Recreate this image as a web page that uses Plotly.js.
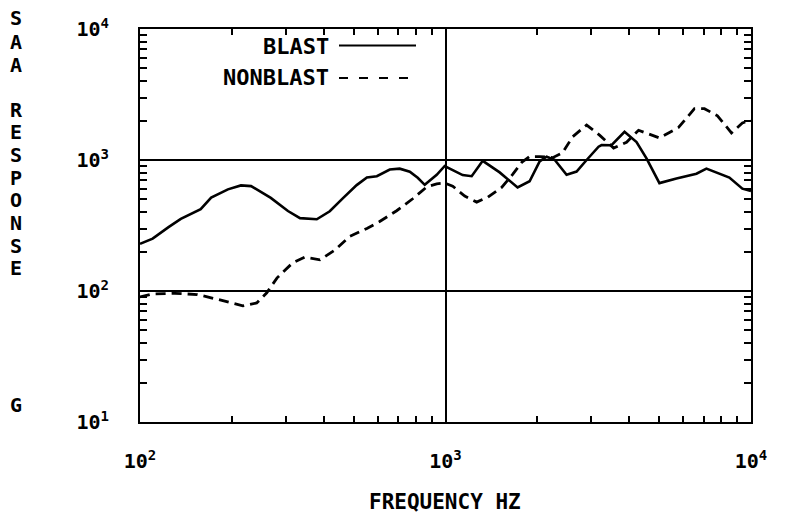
<!DOCTYPE html>
<html>
<head>
<meta charset="utf-8">
<script src="https://cdn.plot.ly/plotly-3.0.1.min.js"></script>
<style>html,body{margin:0;padding:0;background:#fff;}#chart{width:790px;height:519px;}</style>
</head>
<body>
<div id="chart"></div>
<script>
// Frequency (Hz) and response (G)
const blastFreq = [100,110,124,136,158,171,194,214,231,268,305,334,379,418,461,512,553,596,657,708,764,811,855,936,994,1138,1218,1324,1504,1722,1885,2033,2143,2276,2491,2686,2897,3170,3243,3494,3855,4220,4549,5015,5702,6630,7146,7709,8496,9370,10000];
const blastResp = [229,251,307,355,422,517,597,640,632,514,408,360,353,406,510,643,735,752,845,859,813,731,646,770,900,767,752,985,804,617,688,977,1060,1005,771,816,1000,1263,1300,1297,1640,1372,1030,666,722,786,859,804,735,604,580];

const nonblastFreq = [100,110,130,154,179,217,241,260,281,316,346,388,434,486,553,609,692,781,868,936,994,1056,1156,1265,1374,1527,1659,1775,1885,2033,2243,2417,2606,2897,3193,3550,3914,4285,5015,5791,6530,7040,7766,8630,9370,10000];
const nonblastResp = [90,95,96,94,86.5,77,81,97,126,164,181,173,205,261,300,339,410,506,623,658,667,632,530,477,519,618,776,957,1062,1062,1042,1135,1503,1849,1549,1233,1367,1687,1475,1770,2466,2466,2175,1611,1916,2018];

const seriesNames = ['BLAST', 'NONBLAST'];
const xTickVals = [100, 1000, 10000];
const xTickText = ['10<sup>2</sup>', '10<sup>3</sup>', '10<sup>4</sup>'];
const yTickVals = [10, 100, 1000, 10000];
const yTickText = ['10<sup>1</sup>', '10<sup>2</sup>', '10<sup>3</sup>', '10<sup>4</sup>'];
const xTitle = 'FREQUENCY HZ';
const yTitleLetters = ['S','A','A','R','E','S','P','O','N','S','E','G'];

function minorVals(decades) {
  const out = [];
  decades.forEach(d => { for (let k = 2; k <= 9; k++) out.push(k * d); });
  return out;
}

const FONT = 'DejaVu Sans Mono, monospace';
const W = 790, H = 519, ML = 140, MR = 39, MT = 29, MB = 97;
const plotW = W - ML - MR, plotH = H - MT - MB;
const px2paperX = px => (px - ML) / plotW;
const px2paperY = py => (H - MB - py) / plotH;

// pixel rows of the stacked y-title letters (layout only)
const yTitleRows = [18, 42, 65, 110, 132, 155, 178, 200, 223, 246, 268, 405];

const traces = [
  {x: blastFreq, y: blastResp, name: seriesNames[0], type: 'scatter', mode: 'lines',
   line: {color: '#000', width: 2.6}},
  {x: nonblastFreq, y: nonblastResp, name: seriesNames[1], type: 'scatter', mode: 'lines',
   line: {color: '#000', width: 2.8, dash: '10px,6px'}}
];

const tickFont = {family: FONT, size: 20, color: '#000', weight: 'bold'};
const axisCommon = {
  type: 'log', showline: true, linecolor: '#000', linewidth: 2, mirror: 'ticks',
  showgrid: true, gridcolor: '#000', gridwidth: 2, zeroline: false,
  ticks: '', tickfont: tickFont
};

const annotations = [
  {text: xTitle, xref: 'paper', yref: 'paper', x: px2paperX(445), y: px2paperY(502), xanchor: 'center', yanchor: 'middle',
   showarrow: false, font: {family: FONT, size: 21, color: '#000', weight: 'bold'}},
  {text: seriesNames[0], xref: 'paper', yref: 'paper', x: px2paperX(331), y: px2paperY(47), xanchor: 'right', yanchor: 'middle',
   showarrow: false, font: {family: FONT, size: 22, color: '#000', weight: 'bold'}},
  {text: seriesNames[1], xref: 'paper', yref: 'paper', x: px2paperX(331), y: px2paperY(78), xanchor: 'right', yanchor: 'middle',
   showarrow: false, font: {family: FONT, size: 22, color: '#000', weight: 'bold'}}
];
yTitleLetters.forEach((ch, i) => {
  annotations.push({text: ch, xref: 'paper', yref: 'paper', x: px2paperX(16), y: px2paperY(yTitleRows[i]),
    xanchor: 'center', yanchor: 'middle', showarrow: false,
    font: {family: FONT, size: 20, color: '#000', weight: 'bold'}});
});

const layout = {
  width: W, height: H,
  margin: {l: ML, r: MR, t: MT, b: MB},
  paper_bgcolor: '#fff', plot_bgcolor: '#fff',
  showlegend: false,
  xaxis: Object.assign({}, axisCommon, {
    range: [2, 4], tickmode: 'array', tickvals: xTickVals, ticktext: xTickText,
    ticklabelstandoff: 20,
    minor: {tickmode: 'array', tickvals: minorVals([100, 1000]), ticks: 'inside', ticklen: 6, tickwidth: 2, tickcolor: '#000', showgrid: false}
  }),
  yaxis: Object.assign({}, axisCommon, {
    range: [1, 4], tickmode: 'array', tickvals: yTickVals, ticktext: yTickText,
    ticklabelstandoff: 25,
    minor: {tickmode: 'array', tickvals: minorVals([10, 100, 1000]), ticks: 'inside', ticklen: 7, tickwidth: 2, tickcolor: '#000', showgrid: false}
  }),
  annotations: annotations,
  shapes: [
    {type: 'line', xref: 'paper', yref: 'paper', x0: px2paperX(339), x1: px2paperX(416), y0: px2paperY(45.5), y1: px2paperY(45.5),
     line: {color: '#000', width: 2}},
    {type: 'line', xref: 'paper', yref: 'paper', x0: px2paperX(339), x1: px2paperX(418), y0: px2paperY(78), y1: px2paperY(78),
     line: {color: '#000', width: 2, dash: '9px,11px'}}
  ]
};

Plotly.newPlot('chart', traces, layout, {displayModeBar: false, staticPlot: true});
</script>
</body>
</html>
